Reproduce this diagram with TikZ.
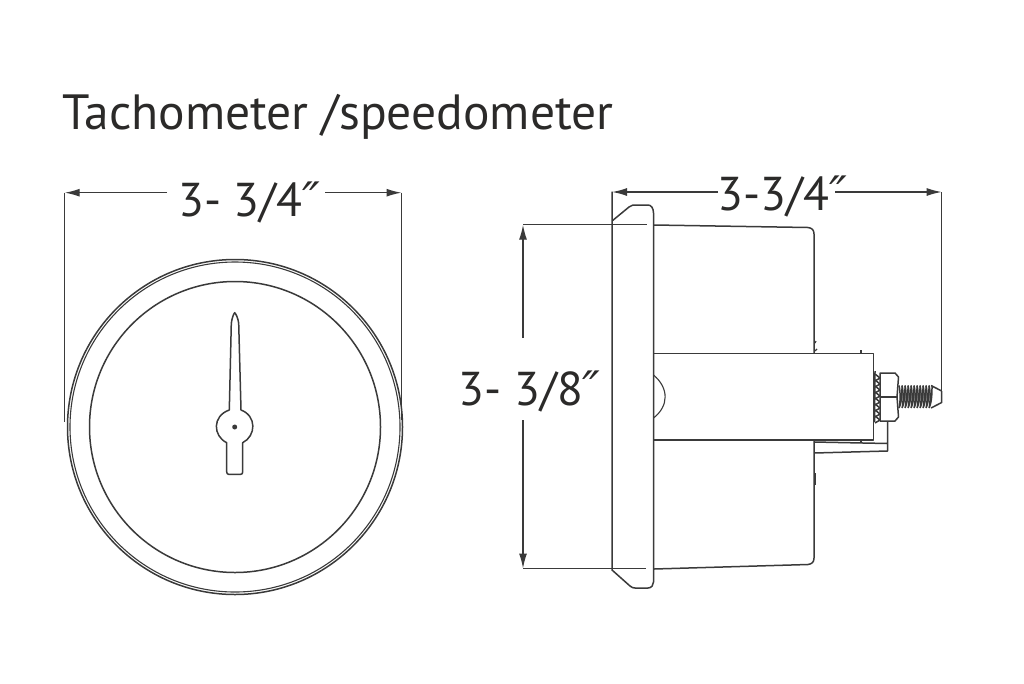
\documentclass[tikz,border=0pt]{standalone}
\usepackage{fontspec}
\setmainfont{PT Sans}
\newfontfamily\markfont{DejaVu Sans}
\usetikzlibrary{arrows.meta}
\definecolor{inkline}{HTML}{3A3A3A}
\definecolor{inktext}{HTML}{2B2A29}
\newcommand{\inchmark}{{\markfont\itshape ″}}
\tikzset{
  outline/.style={line width=1.5pt, color=inkline, line join=round},
  fine/.style={line width=1.1pt, color=inkline},
  dimline/.style={line width=1.4pt, color=inkline},
  dimarrow/.style={dimline, -{Latex[length=15pt,width=8pt]}},
  titletext/.style={font=\fontsize{49.5}{50}\selectfont, text=inktext, inner sep=0pt},
  dimtext/.style={font=\fontsize{47.5}{48}\selectfont, text=inktext, inner sep=0pt},
}
\begin{document}
\begin{tikzpicture}[x=1pt, y=-1pt]
\useasboundingbox (0,0) rectangle (1024,683);
\node[titletext, anchor=base west] (title) at (62,129) {Tachometer /speedometer};
\node[dimtext, anchor=base west] (frontdim) at (178,216.5) {3- 3/4\inchmark};
\node[dimtext, anchor=base west] (sidedim) at (717.5,210.7) {3-3/4\inchmark};
\node[dimtext, anchor=base west] (heightdim) at (458.5,405.5) {3- 3/8\inchmark};
% front view
\draw[outline] (235,427) circle (167.5);
\draw[fine] (235,427) circle (165);
\draw[outline] (235,427) circle (145.5);
\draw[outline] (229.3,410) -- (231.3,323.3) .. controls (232,318) and (233.5,314) .. (234.7,312.7)
  .. controls (236,314) and (238,318) .. (238.7,323.3) -- (241,410)
  .. controls (257,416) and (256,436) .. (242.7,442.7)
  -- (242.7,471.7) .. controls (242.7,473.5) and (242,474.3) .. (240.7,474.3) -- (228.7,474.3)
  .. controls (227.4,474.3) and (226.7,473.5) .. (226.7,471.7) -- (226.7,442.7)
  .. controls (213,436) and (212,416) .. (229.3,410) -- cycle;
\fill[inkline] (234.7,427) circle (2.5);
% front dimension
\coordinate (fl) at (64.7,192.7);
\coordinate (fr) at (401.5,192.7);
\coordinate (fa) at (167,192.7);
\coordinate (fb) at (325,192.7);
\draw[dimline] (fl) -- (64.7,421.7);
\draw[dimline] (fr) -- (401.5,420);
\draw[dimarrow] (fa) -- (fl);
\draw[dimarrow] (fb) -- (fr);
% side view
\draw[outline] (612,191.5) -- (612,570) -- (630,586) .. controls (632,587.5) and (633,588) .. (635,588)
  -- (648,588) .. controls (651.5,588) and (653.5,585) .. (653.5,582) -- (653.5,213)
  .. controls (653.5,208) and (651,205) .. (648,205) -- (633,205) -- (629,207) -- (612,221);
\draw[outline] (654,225) -- (808,227.5) .. controls (812,228) and (814,230) .. (814,234) -- (814,353.5);
\draw[outline] (654,569) -- (808,564.5) .. controls (812,564) and (814,562) .. (814,558) -- (814,440);
\draw[outline] (653.5,353.5) rectangle (873.7,440);
\draw[fine] (653.5,375) .. controls (669,388) and (669,406) .. (653.5,418);
\draw[fine] (861,350) -- (861,353.5) (861,440) -- (861,443);
\draw[fine] (815,343) -- (816,341) (815,351) -- (817,349);
\draw[outline] (815.5,473) -- (815.5,485);
% bracket
\draw[outline] (814,442) -- (887.7,443.5) (814,453) -- (887.7,451) -- (887.7,421);
% nut
\draw[outline] (880,373) -- (895,373) -- (898.5,377) -- (897,397) -- (898.5,417) -- (895,421) -- (880,421) -- cycle;
\draw[outline] (880,397) -- (897,397);
\foreach \y in {374,380,...,416}
  \draw[outline] (875,\y) -- (880,\y+4) -- (875,\y+7);
\draw[outline] (875,371) -- (874.5,422);
% thread
\foreach \x in {899,902,...,929}
  \draw[outline] (\x,385.5) .. controls (\x+1.5,392) and (\x+1.5,402) .. (\x,408)
    (\x,408) .. controls (\x+3,402) and (\x+3,392) .. (\x+3,385.5);
\draw[outline] (931,385.5) -- (941.7,391) (931,408) -- (941.7,402.5) -- (941.7,391);
% side dimensions
\coordinate (sl) at (612,192);
\coordinate (sr) at (941.7,192);
\coordinate (sa) at (718,192);
\coordinate (sb) at (835,192);
\draw[dimline] (sr) -- (941.7,391);
\draw[dimarrow] (sa) -- (sl);
\draw[dimarrow] (sb) -- (sr);
\coordinate (ht) at (523,224.7);
\coordinate (hb) at (523,568.5);
\coordinate (ha) at (523,338);
\coordinate (hc) at (523,420);
\draw[dimline] (ht) -- (646.7,224.7);
\draw[dimline] (hb) -- (646,568.5);
\draw[dimarrow] (ha) -- (ht);
\draw[dimarrow] (hc) -- (hb);
\end{tikzpicture}
\end{document}
